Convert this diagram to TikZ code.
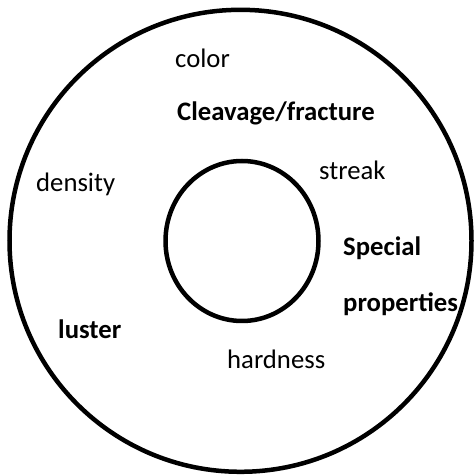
\documentclass[tikz,border=0pt]{standalone}
\usepackage{fontspec}
\setmainfont{Carlito}
\tikzset{
    prop/.style={anchor=base west, inner sep=0pt, font=\fontsize{26.7}{32}\selectfont},
    keyprop/.style={prop, font=\fontsize{26.7}{32}\selectfont\bfseries}
}
\begin{document}
\begin{tikzpicture}[x=1pt, y=1pt]
    % 1. Khung hình
    \useasboundingbox (0,0) rectangle (474,476);

    % 2. Hai vòng tròn
    \draw[line width=4.5pt] (240.5,235.2) circle (231);
    \draw[line width=4.5pt] (242,235) ellipse (76.5 and 80);

    % 3. Các tính chất
    \node[prop] (color) at (175,408) {color};
    \node[keyprop] (cleavage) at (177,355) {Cleavage/fracture};
    \node[prop] (streak) at (319,296) {streak};
    \node[prop] (density) at (36,284) {density};
    \node[keyprop] (special) at (343,220) {Special};
    \node[keyprop] (properties) at (343,164) {properties};
    \node[keyprop] (luster) at (58,137) {luster};
    \node[prop] (hardness) at (227,107) {hardness};
\end{tikzpicture}
\end{document}
